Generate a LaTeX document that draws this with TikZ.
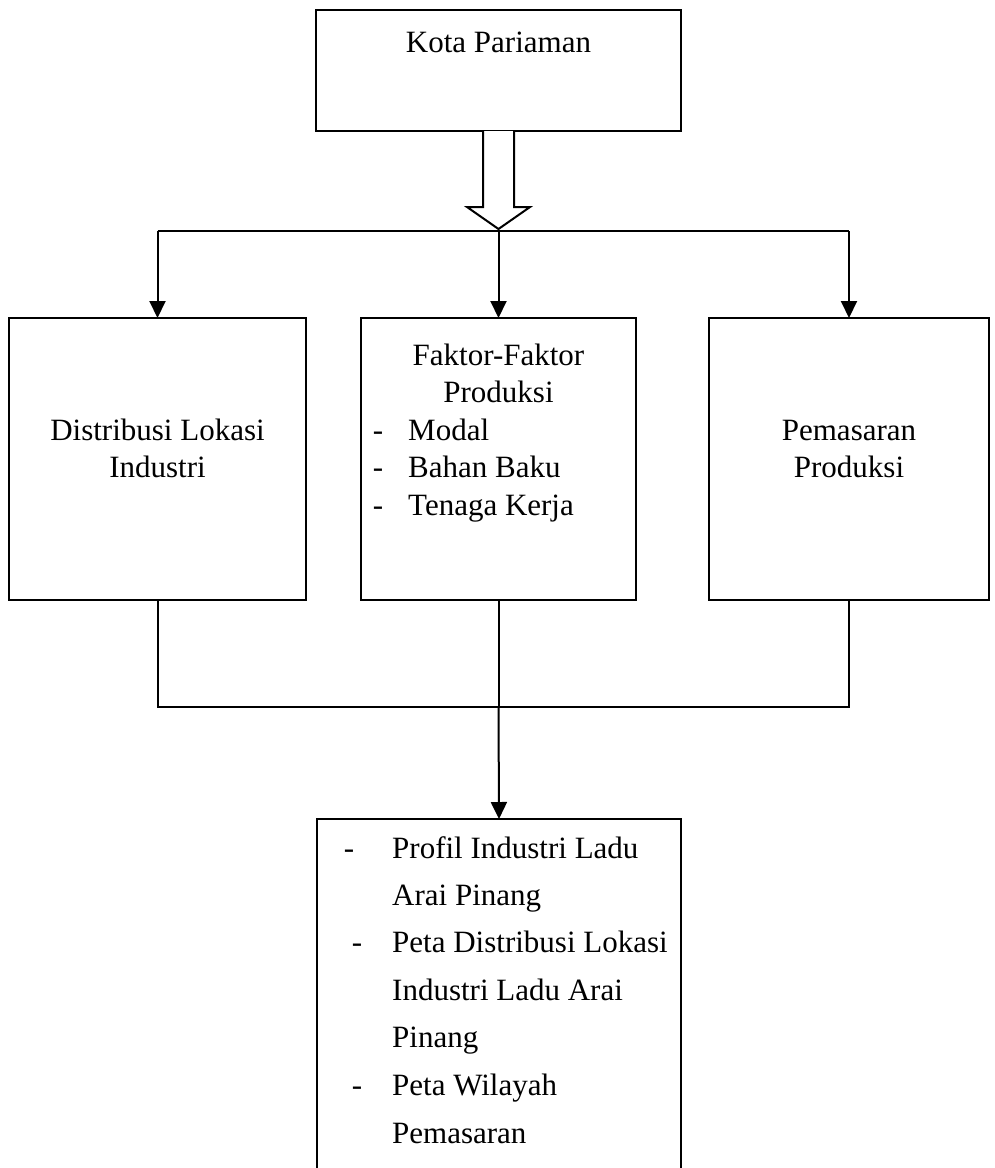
\documentclass[tikz,border=0pt]{standalone}
\usepackage{fontspec}
\setmainfont{Liberation Serif}
\usetikzlibrary{arrows.meta,calc}
\tikzset{
  x=1pt,y=-1pt,
  box/.style={draw,line width=2pt,inner sep=0pt,outer sep=0pt},
  conn/.style={line width=2pt},
  arr/.style={conn,-{Triangle[width=16pt,length=17pt]}},
  txt/.style={anchor=base,inner sep=0pt,font=\fontsize{31}{37}\selectfont},
  txtw/.style={anchor=base west,inner sep=0pt,font=\fontsize{31}{37}\selectfont},
}
\begin{document}
\begin{tikzpicture}
\useasboundingbox (0,0) rectangle (995,1168);
\clip (0,0) rectangle (995,1168);
% boxes
\node[box,minimum width=365pt,minimum height=121pt] (T) at (498.5,70.5) {};
\node[box,minimum width=297pt,minimum height=282pt] (L) at (157.5,459) {};
\node[box,minimum width=275pt,minimum height=282pt] (M) at (498.5,459) {};
\node[box,minimum width=280pt,minimum height=282pt] (R) at (849,459) {};
\node[box,minimum width=364pt,minimum height=380pt] (B) at (499,1009) {};
% texts
\node[txt] (tT) at (498.5,52) {Kota Pariaman};
\node[txt] (tL1) at (157.5,440) {Distribusi Lokasi};
\node[txt] (tL2) at (157.5,477) {Industri};
\node[txt] (tM1) at (498.5,365) {Faktor-Faktor};
\node[txt] (tM2) at (498.5,402) {Produksi};
\node[txt] (dM1) at (378,440) {-};
\node[txtw] (tM3) at (408,440) {Modal};
\node[txt] (dM2) at (378,477) {-};
\node[txtw] (tM4) at (408,477) {Bahan Baku};
\node[txt] (dM3) at (378,515) {-};
\node[txtw] (tM5) at (408,515) {Tenaga Kerja};
\node[txt] (tR1) at (849,440) {Pemasaran};
\node[txt] (tR2) at (849,477) {Produksi};
\node[txt] (dB1) at (349,858) {-};
\node[txtw] (tB1) at (392,858) {Profil Industri Ladu};
\node[txtw] (tB2) at (392,905) {Arai Pinang};
\node[txt] (dB2) at (357,952) {-};
\node[txtw] (tB3) at (392,952) {Peta Distribusi Lokasi};
\node[txtw] (tB4) at (392,1000) {Industri Ladu Arai};
\node[txtw] (tB5) at (392,1047) {Pinang};
\node[txt] (dB3) at (357,1095) {-};
\node[txtw] (tB6) at (392,1095) {Peta Wilayah};
\node[txtw] (tB7) at (392,1143) {Pemasaran};
% hollow arrow
\draw[conn,fill=white,line join=miter,shift={(T.south)}]
  (-15.5,0) -- (-15.5,76) -- (-31.5,76) -- (0,98) -- (31.5,76) -- (15.5,76) -- (15.5,0);
% top distribution
\coordinate (jt) at (498.5,231);
\draw[conn] (L.north |- jt) -- (R.north |- jt);
\draw[arr] (L.north |- jt) -- (L.north);
\draw[arr] (jt) -- (M.north);
\draw[arr] (R.north |- jt) -- (R.north);
% bottom join
\coordinate (jb) at (498.5,707);
\draw[conn] (L.south) -- (L.south |- jb) -- (R.south |- jb) -- (R.south);
\draw[conn] (M.south) -- (jb);
\draw[arr] (jb) -- (B.north);
\end{tikzpicture}
\end{document}
